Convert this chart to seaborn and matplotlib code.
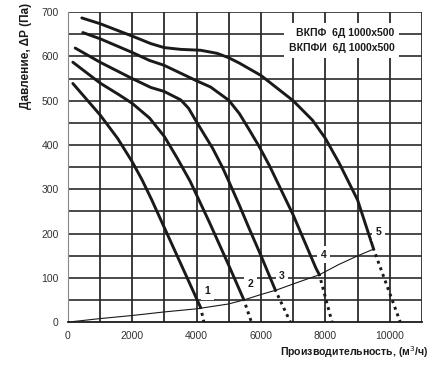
import matplotlib
matplotlib.use("Agg")
import matplotlib.pyplot as plt
import pandas as pd
import seaborn as sns

# Fan curves (flow m3/h, pressure Pa)
c1_x = [155, 1000, 1546, 2000, 2300, 2600, 3000, 3500, 4124]
c1_y = [539, 468, 415, 362, 322, 277, 213, 133, 33]
c2_x = [155, 1000, 1600, 2000, 2536, 3000, 3400, 3800, 4400, 5000, 5464]
c2_y = [587, 540, 513, 494, 461, 419, 370, 318, 225, 128, 51]
c3_x = [227, 1000, 2000, 2577, 2990, 3505, 3750, 4000, 4495, 4800, 5000, 5328, 5629, 6000, 6258, 6448]
c3_y = [619, 587, 550, 530, 521, 502, 483, 452, 393, 350, 318, 264, 212, 150, 105, 72]
c4_x = [464, 1000, 2000, 2536, 2990, 4000, 4433, 5000, 5328, 5638, 5948, 6258, 7000, 7706, 7813]
c4_y = [654, 640, 609, 591, 580, 545, 531, 501, 471, 434, 396, 354, 242, 122, 107]
c5_x = [433, 1000, 2000, 2577, 2990, 3505, 4124, 4639, 5000, 5328, 6000, 7000, 7600, 8000, 8430, 9000, 9498]
c5_y = [687, 674, 646, 629, 620, 616, 614, 607, 597, 585, 557, 500, 456, 415, 359, 276, 165]

# dotted tails down to zero pressure
tail_x = [[4124, 4227], [5464, 5703], [6448, 6913], [7813, 8206], [9498, 10326]]
tail_y = [[33, 0], [51, 0], [72, 0], [107, 0], [165, 0]]

# system (network) curve
sys_x = [0, 1000, 2000, 2990, 3990, 4990, 5464, 5982, 6500, 7068, 7813, 8413, 8981, 9498]
sys_y = [0, 8, 15, 23, 30, 41, 50, 62, 73, 88, 107, 130, 149, 165]

labels = ["1", "2", "3", "4", "5"]
label_x = [4330, 5672, 6655, 7947, 9653]
label_y = [70, 86, 105, 152, 203]

sns.set_style("white")
plt.rcParams['font.family'] = ['Liberation Sans', 'DejaVu Sans']

fig = plt.figure(figsize=(4.35, 3.69), dpi=100)
ax = fig.add_axes([0.156, 0.127, 0.814, 0.840])

# grid
for gx in range(1000, 11001, 1000):
    ax.axvline(gx, color="#1a1a1a", lw=1.2, zorder=1)
for gy in range(50, 701, 50):
    ax.axhline(gy, color="#2a2a2a", lw=1.2, zorder=1)

curves = [(c1_x, c1_y), (c2_x, c2_y), (c3_x, c3_y), (c4_x, c4_y), (c5_x, c5_y)]
for cx, cy in curves:
    d = pd.DataFrame({"x": cx, "y": cy})
    sns.lineplot(data=d, x="x", y="y", sort=False, color="#1a1a1a", lw=2.1, ax=ax, zorder=3)
for tx, ty in zip(tail_x, tail_y):
    d = pd.DataFrame({"x": tx, "y": ty})
    sns.lineplot(data=d, x="x", y="y", sort=False, color="#1a1a1a", lw=2.1,
                 linestyle=(0.5, (1.0, 1.4)), ax=ax, zorder=3)

d = pd.DataFrame({"x": sys_x, "y": sys_y})
sns.lineplot(data=d, x="x", y="y", sort=False, color="#1a1a1a", lw=0.8, ax=ax, zorder=3)

for lb, lx, ly in zip(labels, label_x, label_y):
    ax.text(lx, ly, lb, fontsize=7.5, fontweight="bold", ha="center", va="center",
            color="#1a1a1a", bbox=dict(facecolor="white", edgecolor="none", pad=2.5), zorder=4)

ax.text(10150, 636, "ВКПФ  6Д 1000x500\nВКПФИ  6Д 1000x500", fontsize=7.5,
        fontweight="bold", ha="right", va="center", linespacing=1.65, color="#1a1a1a",
        bbox=dict(facecolor="white", edgecolor="none", pad=3.5), zorder=4)

ax.set_xlim(0, 11000)
ax.set_ylim(0, 700)
ax.set_xticks(range(0, 11000, 2000))
ax.set_yticks(range(0, 701, 100))
ax.tick_params(axis="both", labelsize=7.5, length=3, direction="out",
               colors="#555555", labelcolor="#333333")
for s in ["top", "right"]:
    ax.spines[s].set_visible(False)
ax.spines["left"].set_color("#888888")
ax.spines["bottom"].set_color("#1a1a1a")
ax.spines["bottom"].set_linewidth(1.3)

ax.set_xlabel("Производительность, (м$^3$/ч)", fontsize=7.6, fontweight="bold", color="#1a1a1a")
ax.xaxis.set_label_coords(1.017, -0.072)
ax.xaxis.label.set_ha("right")
ax.set_ylabel("Давление, ΔР (Па)", fontsize=8.5, fontweight="bold", color="#1a1a1a")
ax.yaxis.set_label_coords(-0.102, 0.86)

fig.savefig("out.png", dpi=100)
